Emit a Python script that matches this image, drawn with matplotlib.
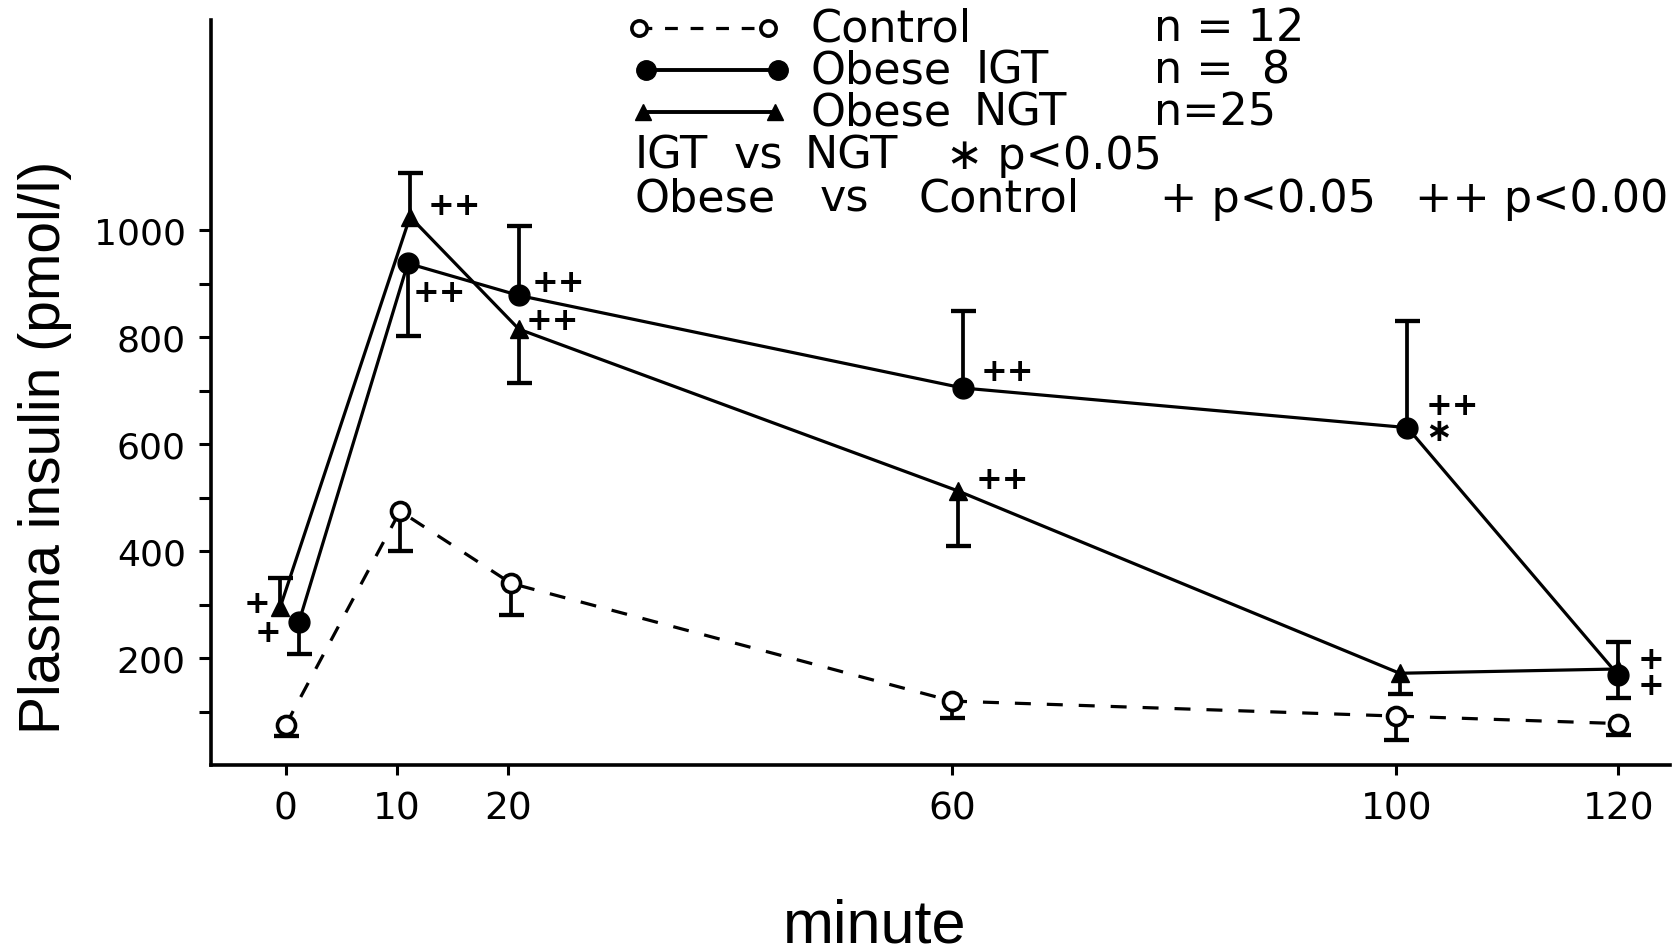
import matplotlib
matplotlib.use("Agg")
import matplotlib.pyplot as plt
from matplotlib.lines import Line2D

# ---------------- data ----------------
tick_times = [0, 10, 20, 60, 100, 120]
tick_labels = ["0", "10", "20", "60", "100", "120"]
y_major = [200, 400, 600, 800, 1000]
y_minor = [100, 300, 500, 700, 900]

ctrl_t = [0, 10.3, 20.3, 60, 100, 120]
ctrl_y = [75, 475, 340, 120, 92, 78]
ctrl_err_lo = [20, 75, 60, 32, 44, 22]
ctrl_err_hi = [0, 0, 0, 0, 0, 0]

igt_t = [1.2, 11, 21, 61, 101, 120]
igt_y = [268, 938, 878, 705, 631, 168]
igt_err_lo = [60, 135, 0, 0, 0, 0]
igt_err_hi = [0, 0, 130, 144, 200, 62]

ngt_t = [-0.5, 11.2, 21, 60.5, 100.3, 120]
ngt_y = [295, 1025, 815, 513, 172, 180]
ngt_err_lo = [0, 0, 100, 103, 38, 55]
ngt_err_hi = [55, 82, 0, 0, 0, 0]

# significance marks
sig_labels = ["+", "+", "++", "++", "++", "++", "++", "++", "++\n\u2217", "+\n+"]
sig_t = [-2.6, -1.6, 15.2, 13.8, 24.6, 24.0, 65.0, 64.5, 102.6, 122.9]
sig_y = [302, 248, 1046, 884, 902, 832, 736, 534, 648, 174]
sig_ha = ["center", "center", "center", "center", "center", "center", "center", "center", "left", "center"]

# ---------------- figure ----------------
W, H = 1678, 953
fig = plt.figure(figsize=(W / 100, H / 100), dpi=100)
fig.patch.set_facecolor("white")
ax = fig.add_axes([210.8 / W, 1 - 766.3 / H, (1669.5 - 210.8) / W, (766.3 - 21.4) / H])
ax.set_xlim(-6.74, 124.6)
ax.set_ylim(0, 1392)

for s in ["top", "right"]:
    ax.spines[s].set_visible(False)
for s in ["left", "bottom"]:
    ax.spines[s].set_linewidth(2.6)
    ax.spines[s].set_color("black")

LW = 2.3
CAP = 18


def draw_err(t, y, lo, hi):
    for ti, yi, l, h in zip(t, y, lo, hi):
        for tip in ([yi - l] if l > 0 else []) + ([yi + h] if h > 0 else []):
            ax.plot([ti, ti], [yi, tip], color="black", lw=LW + 0.4, solid_capstyle="butt", zorder=2)
            ax.plot([ti], [tip], marker="_", ms=CAP, mew=LW + 0.8, color="black", zorder=2)


draw_err(ctrl_t, ctrl_y, ctrl_err_lo, ctrl_err_hi)
draw_err(igt_t, igt_y, igt_err_lo, igt_err_hi)
draw_err(ngt_t, ngt_y, ngt_err_lo, ngt_err_hi)

ax.plot(ctrl_t, ctrl_y, color="black", lw=LW, ls=(0, (5, 5)), marker="o", ms=13,
        mfc="white", mec="black", mew=2.6, zorder=3)
ax.plot(igt_t, igt_y, color="black", lw=LW, marker="o", ms=15, mfc="black", mec="black", zorder=3)
ax.plot(ngt_t, ngt_y, color="black", lw=LW, marker="^", ms=13, mfc="black", mec="black", zorder=3)

for lab, t, y, ha in zip(sig_labels, sig_t, sig_y, sig_ha):
    ax.text(t, y, lab, ha=ha, va="center", multialignment=ha, fontsize=23,
            fontweight="bold", family="DejaVu Sans", linespacing=0.78, clip_on=False)

# ticks
ax.set_xticks(tick_times)
ax.set_xticklabels(tick_labels, family="DejaVu Sans", fontsize=27)
ax.set_yticks(y_major)
ax.set_yticklabels([str(v) for v in y_major], family="DejaVu Sans", fontsize=26)
ax.set_yticks(y_minor, minor=True)
ax.tick_params(axis="x", direction="out", length=7, width=2.2, pad=11, colors="black")
ax.tick_params(axis="y", which="both", direction="out", length=9, width=2.2, pad=9, colors="black")

# axis labels
fig.text(45 / W, 1 - 447 / H, "Plasma insulin (pmol/l)", rotation=90, ha="center", va="center",
         fontsize=41, family="Liberation Sans")
fig.text(875 / W, 1 - 927 / H, "minute", ha="center", va="center", fontsize=44, family="Liberation Sans")

# ---------------- legend block (figure pixel coords) ----------------
def fx(px):
    return px / W


def fy(py):
    return 1 - py / H


k = 1678 / 1568  # displayed -> full scale
rows = [27 * k, 66 * k, 106 * k, 146 * k, 186 * k]
FS = 32

fig.add_artist(Line2D([fx(639), fx(768)], [fy(rows[0]), fy(rows[0])], color="black", lw=2.3,
                      ls=(0, (4, 4)), marker="o", ms=11, mfc="white", mec="black", mew=2.6))
fig.add_artist(Line2D([fx(646), fx(778)], [fy(rows[1]), fy(rows[1])], color="black", lw=2.8,
                      marker="o", ms=14, mfc="black", mec="black"))
fig.add_artist(Line2D([fx(643), fx(775)], [fy(rows[2]), fy(rows[2])], color="black", lw=2.8,
                      marker="^", ms=11, mfc="black", mec="black"))

legend_pieces = [
    (757, 0, "Control"), (1078, 0, "n = 12"),
    (757, 1, "Obese"), (912, 1, "IGT"), (1078, 1, "n =  8"),
    (757, 2, "Obese"), (910, 2, "NGT"), (1078, 2, "n=25"),
    (593, 3, "IGT"), (686, 3, "vs"), (752, 3, "NGT"), (884, 3, "\u2217 p<0.05"),
    (593, 4, "Obese"), (766, 4, "vs"), (858, 4, "Control"), (1084, 4, "+ p<0.05"),
    (1322, 4, "++ p<0.00"),
]
for xd, r, txt in legend_pieces:
    fig.text(fx(xd * k), fy(rows[r]), txt, ha="left", va="center", fontsize=FS,
             family="DejaVu Sans", color="black")

fig.savefig("out.png", dpi=100, facecolor="white")
